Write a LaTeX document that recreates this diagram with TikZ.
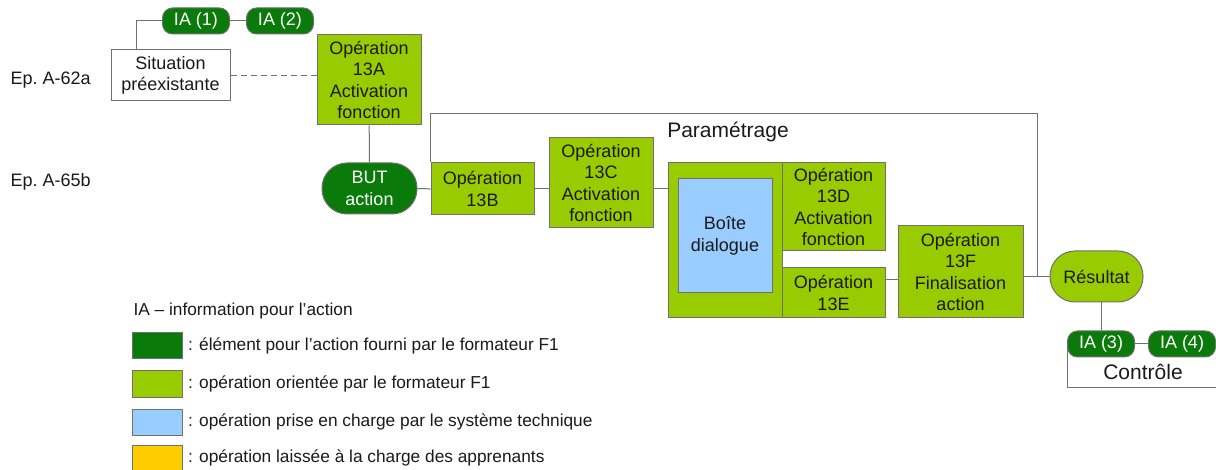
\documentclass[tikz,border=0pt]{standalone}
\usepackage{fontspec}
\setmainfont{Liberation Sans}
\usetikzlibrary{positioning, calc}
\definecolor{iadark}{HTML}{0A7A0A}
\definecolor{opgreen}{HTML}{99CC00}
\definecolor{sysblue}{HTML}{99CCFF}
\definecolor{apyellow}{HTML}{FFCC00}
\definecolor{linegray}{HTML}{707070}
\definecolor{txtdark}{HTML}{1A1A1A}
\newcommand{\opsize}{\fontsize{18}{21.5}\selectfont}
\newcommand{\legsize}{\fontsize{17.3}{20}\selectfont}
\newcommand{\headsize}{\fontsize{21}{24}\selectfont}

\begin{document}
\begin{tikzpicture}[x=1pt, y=-1pt, line width=1pt, font=\opsize, text=txtdark,
    op/.style={draw=linegray, fill=opgreen, inner sep=0pt, align=center},
    sys/.style={draw=linegray, fill=sysblue, inner sep=0pt, align=center},
    goal/.style={draw=linegray, inner sep=0pt, align=center, rounded corners=25pt},
    ia/.style={draw=linegray, fill=iadark, text=white, inner sep=0pt,
      minimum width=67, minimum height=26, rounded corners=10pt},
    swatch/.style={draw=linegray, minimum width=50, minimum height=26, inner sep=0pt},
    legtext/.style={anchor=west, inner sep=0pt, font=\legsize}]
    \useasboundingbox (0,0) rectangle (1216,470);

    % upper episode
    \node[anchor=west, inner sep=0pt] (ep62) at (10,80) {Ep.\ A-62a};
    \node[anchor=west, inner sep=0pt] (ep65) at (10,182) {Ep.\ A-65b};
    \node[ia] (ia1) at (196,21) {IA (1)};
    \node[ia] (ia2) at (280,21) {IA (2)};
    \node[draw=linegray, fill=white, inner sep=0pt, align=center,
      minimum width=119, minimum height=51] (sit) at (170.5,75.5) {Situation\\préexistante};
    \node[op, minimum width=104, minimum height=90] (op13a) at (369,80)
      {Opération\\13A\\Activation\\fonction};

    % main chain
    \node[goal, fill=iadark, text=white, minimum width=95, minimum height=51] (but) at (369.5,188.5)
      {BUT\\action};
    \node[op, minimum width=103, minimum height=52] (op13b) at (482.5,189) {Opération\\13B};
    \node[op, minimum width=104, minimum height=90] (op13c) at (601,183)
      {Opération\\13C\\Activation\\fonction};
    \node[op, minimum width=114, minimum height=155] (dlg) at (725,240.5) {};
    \node[sys, minimum width=94, minimum height=114] (boite) at (725,236) {Boîte\\dialogue};
    \node[op, minimum width=103, minimum height=88] (op13d) at (833.5,207)
      {Opération\\13D\\Activation\\fonction};
    \node[op, minimum width=103, minimum height=50] (op13e) at (833.5,293) {Opération\\13E};
    \node[op, minimum width=125, minimum height=92] (op13f) at (960.5,272)
      {Opération\\13F\\Finalisation\\action};
    \node[goal, fill=opgreen, minimum width=93, minimum height=51] (res) at (1096.5,276.5) {Résultat};
    \node[font=\headsize, inner sep=0pt] (param) at (728,132) {Paramétrage};

    % control
    \node[ia] (ia3) at (1101,344) {IA (3)};
    \node[ia] (ia4) at (1182,344) {IA (4)};
    \node[font=\headsize, inner sep=0pt] (ctl) at (1143,372) {Contrôle};
    \coordinate (ctlend) at (1216,387);
    \coordinate (jn) at ($(op13f.east)!0.55!(res.west)$);

    % connectors
    \draw[linegray] ([xshift=26pt]sit.north west) |- (ia1.west);
    \draw[linegray] (ia1) -- (ia2);
    \draw[linegray, dash pattern=on 6pt off 4pt] (sit.east) -- (sit.east -| op13a.west);
    \draw[linegray] (op13a) -- (but);
    \draw[linegray] (but) -- (op13b);
    \draw[linegray] (op13b.east) -- (op13b.east -| op13c.west);
    \draw[linegray] (op13b.east -| op13c.east) -- (op13b.east -| dlg.west);
    \draw[linegray] ([yshift=13pt]op13e.east) -- ([yshift=13pt]op13e.east -| op13f.west);
    \draw[linegray] (op13f.east |- res.west) -- (res.west);
    \draw[linegray] (op13b.north west) -- ++(0,-49) -| (jn |- res.west);
    \draw[linegray] (ia3.north) -- (ia3.north |- res.south);
    \draw[linegray] (ia3) -- (ia4);
    \draw[linegray] (ia3.west) |- (ctlend);

    % legend
    \node[legtext] (legtitle) at (133,311) {IA -- information pour l'action};
    \node[swatch, fill=iadark] (sw1) at (157,346) {};
    \node[legtext, right=5pt of sw1] (lg1) {: élément pour l'action fourni par le formateur F1};
    \node[swatch, fill=opgreen] (sw2) at (157,384) {};
    \node[legtext, right=5pt of sw2] (lg2) {: opération orientée par le formateur F1};
    \node[swatch, fill=sysblue] (sw3) at (157,422) {};
    \node[legtext, right=5pt of sw3] (lg3) {: opération prise en charge par le système technique};
    \node[swatch, fill=apyellow] (sw4) at (157,458) {};
    \node[legtext, right=5pt of sw4] (lg4) {: opération laissée à la charge des apprenants};
\end{tikzpicture}
\end{document}
